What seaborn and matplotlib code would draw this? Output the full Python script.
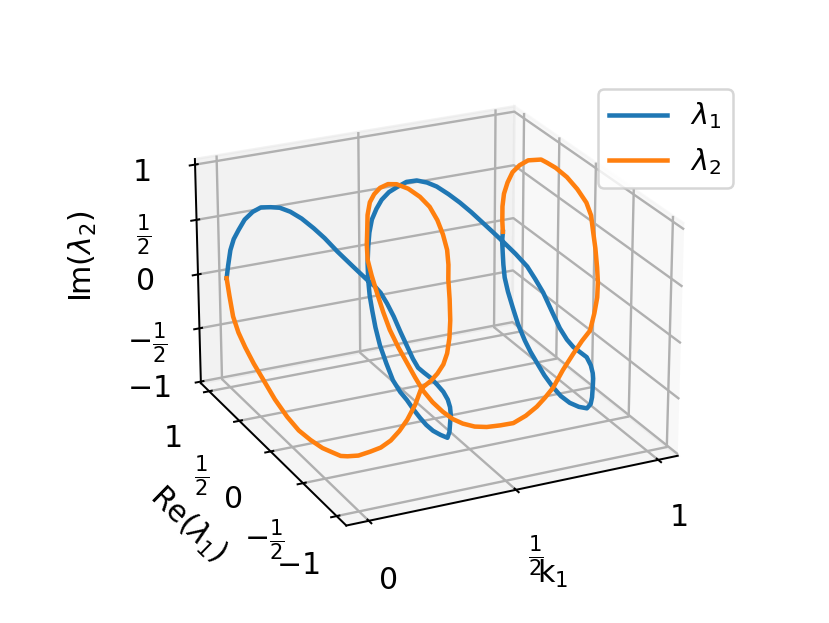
import matplotlib
matplotlib.use("Agg")
import matplotlib.pyplot as plt
import seaborn as sns

# lambda 1
k1 = [0.000, 0.000, 0.005, 0.005, 0.010, 0.015, 0.020, 0.025, 0.035, 0.040, 0.045, 0.050, 0.055,
      0.060, 0.070, 0.090, 0.115, 0.130, 0.140, 0.145, 0.155, 0.165, 0.175, 0.190, 0.205, 0.220,
      0.240, 0.265, 0.285, 0.305, 0.320, 0.330, 0.345, 0.365, 0.390, 0.415, 0.435, 0.445,
      0.450, 0.455, 0.460, 0.460, 0.460, 0.465, 0.475, 0.480, 0.485, 0.490, 0.490, 0.495, 0.500,
      0.500, 0.500, 0.505, 0.510, 0.515, 0.520, 0.530, 0.540, 0.545, 0.545, 0.550, 0.555, 0.560,
      0.570, 0.585, 0.595, 0.615, 0.635, 0.645, 0.660, 0.670, 0.690, 0.710, 0.730, 0.755, 0.780,
      0.795, 0.805, 0.815, 0.820, 0.830, 0.845, 0.865, 0.890, 0.915, 0.930, 0.940, 0.945, 0.955,
      0.960, 0.965, 0.970, 0.975, 0.975, 0.980, 0.980, 0.985, 0.990, 0.995, 1.000]
re1 = [1.02, 0.99, 0.97, 0.91, 0.85, 0.77, 0.66, 0.55, 0.44, 0.32, 0.18, 0.03, -0.13,
       -0.27, -0.41, -0.55, -0.65, -0.69, -0.73, -0.80, -0.85, -0.90, -0.96, -0.97, -0.98, -1.00,
       -1.01, -1.00, -1.00, -0.98, -0.95, -0.92, -0.85, -0.76, -0.63, -0.43, -0.24, -0.10,
       0.01, 0.13, 0.25, 0.35, 0.46, 0.58, 0.72, 0.81, 0.88, 0.94, 0.96, 0.99, 1.00,
       0.98, 0.94, 0.89, 0.83, 0.74, 0.64, 0.54, 0.43, 0.30, 0.16, 0.01, -0.13, -0.27,
       -0.39, -0.47, -0.57, -0.66, -0.74, -0.81, -0.86, -0.94, -0.97, -0.99, -1.00, -1.00, -0.99,
       -0.99, -0.98, -0.95, -0.93, -0.89, -0.83, -0.74, -0.60, -0.40, -0.22, -0.06, 0.07, 0.23,
       0.36, 0.47, 0.57, 0.69, 0.77, 0.86, 0.91, 0.95, 0.98, 1.01, 1.02]
im1 = [-0.01, 0.12, 0.27, 0.40, 0.51, 0.64, 0.76, 0.85, 0.90, 0.95, 0.98, 0.99, 0.98,
       0.96, 0.91, 0.84, 0.76, 0.72, 0.68, 0.62, 0.53, 0.42, 0.31, 0.21, 0.13, 0.09,
       0.04, -0.04, -0.11, -0.20, -0.29, -0.38, -0.50, -0.64, -0.78, -0.88, -0.96, -0.99,
       -0.99, -0.98, -0.96, -0.94, -0.89, -0.80, -0.71, -0.59, -0.47, -0.36, -0.23, -0.09, 0.06,
       0.20, 0.34, 0.46, 0.57, 0.68, 0.77, 0.86, 0.92, 0.96, 0.99, 0.99, 0.98, 0.96,
       0.92, 0.87, 0.83, 0.76, 0.68, 0.60, 0.50, 0.37, 0.23, 0.13, 0.06, 0.00, -0.06,
       -0.14, -0.22, -0.29, -0.35, -0.43, -0.54, -0.66, -0.79, -0.90, -0.97, -1.00, -0.99, -0.97,
       -0.92, -0.88, -0.83, -0.74, -0.62, -0.52, -0.41, -0.31, -0.22, -0.12, -0.04]

# lambda 2
k2 = [0.000, 0.000, 0.005, 0.010, 0.020, 0.030, 0.040, 0.050, 0.055, 0.060, 0.065, 0.075, 0.085,
      0.090, 0.095, 0.105, 0.120, 0.135, 0.150, 0.165, 0.180, 0.200, 0.220, 0.245, 0.265, 0.285,
      0.305, 0.320, 0.335, 0.350, 0.370, 0.390, 0.410, 0.425, 0.440, 0.450, 0.455, 0.460, 0.460,
      0.460, 0.460, 0.460, 0.470, 0.480, 0.490, 0.495, 0.500, 0.505, 0.515, 0.520, 0.525, 0.530,
      0.535, 0.535, 0.535, 0.535, 0.540, 0.545, 0.555, 0.565, 0.580, 0.595, 0.610, 0.625, 0.645,
      0.660, 0.675, 0.700, 0.730, 0.760, 0.790, 0.815, 0.835, 0.850, 0.860, 0.880, 0.900, 0.920,
      0.935, 0.945, 0.950, 0.960, 0.965, 0.970, 0.970, 0.970, 0.970, 0.970, 0.975, 0.980, 0.985,
      0.990, 1.000]
re2 = [1.02, 0.98, 0.95, 0.89, 0.83, 0.74, 0.63, 0.50, 0.33, 0.17, 0.01, -0.13, -0.25,
       -0.34, -0.42, -0.54, -0.65, -0.74, -0.82, -0.88, -0.93, -0.96, -0.96, -0.99, -1.00, -1.00,
       -0.97, -0.94, -0.89, -0.82, -0.72, -0.64, -0.54, -0.42, -0.28, -0.13, 0.03, 0.22, 0.39,
       0.52, 0.64, 0.73, 0.84, 0.92, 0.97, 1.00, 1.01, 0.97, 0.93, 0.86, 0.78, 0.67,
       0.56, 0.44, 0.32, 0.18, 0.05, -0.08, -0.18, -0.31, -0.42, -0.55, -0.67, -0.78, -0.85,
       -0.90, -0.95, -0.98, -1.00, -1.00, -0.99, -0.95, -0.91, -0.86, -0.81, -0.71, -0.60, -0.50,
       -0.38, -0.22, -0.06, 0.13, 0.27, 0.37, 0.43, 0.55, 0.67, 0.77, 0.86, 0.93, 0.97,
       0.99, 1.02]
im2 = [-0.01, -0.15, -0.33, -0.45, -0.56, -0.67, -0.77, -0.88, -0.95, -0.99, -0.99, -0.99, -0.97,
       -0.95, -0.91, -0.84, -0.75, -0.67, -0.57, -0.46, -0.34, -0.20, -0.07, 0.00, 0.06, 0.13,
       0.20, 0.31, 0.43, 0.57, 0.68, 0.76, 0.83, 0.90, 0.95, 0.99, 1.00, 0.98, 0.94,
       0.88, 0.79, 0.69, 0.56, 0.40, 0.23, 0.08, -0.07, -0.20, -0.35, -0.49, -0.62, -0.73,
       -0.82, -0.89, -0.95, -0.98, -1.00, -1.00, -0.99, -0.95, -0.90, -0.82, -0.74, -0.62, -0.51,
       -0.41, -0.30, -0.14, 0.00, 0.10, 0.17, 0.29, 0.40, 0.50, 0.60, 0.71, 0.81, 0.88,
       0.93, 0.97, 1.00, 0.99, 0.97, 0.95, 0.92, 0.86, 0.76, 0.65, 0.51, 0.37, 0.23,
       0.08, -0.04]

k_ticks = [0, 0.5, 1]
val_ticks = [-1, -0.5, 0, 0.5, 1]
val_labels = ['$-1$', r'$-\frac{1}{2}$', '$0$', r'$\frac{1}{2}$', '$1$']
k_labels = ['$0$', r'$\frac{1}{2}$', '$1$']
colors = sns.color_palette('tab10')

plt.rcParams['font.size'] = 12
plt.rcParams['grid.linewidth'] = 0.95

fig = plt.figure(figsize=(830/180, 623/180), dpi=180)
ax = fig.add_subplot(projection='3d')
ax.set_position([0.125 + 2.4/830, 0.11 + 2.0/623, 0.775, 0.77])
ax.view_init(elev=23.09, azim=-115.5)
ax.set_proj_type('persp', focal_length=1.446)
ax.set_box_aspect((4*0.985, 4, 2.71), zoom=1.154)
ax.plot(k1, re1, im1, color=colors[0], lw=1.8, label=r'$\lambda_1$')
ax.plot(k2, re2, im2, color=colors[1], lw=1.8, label=r'$\lambda_2$')
ax.set_xlim(-0.075, 1.07)
ax.set_ylim(-1.14, 1.14)
ax.set_zlim(-1.015, 1.05)
ax.set_xticks(k_ticks)
ax.set_xticklabels(k_labels)
ax.set_yticks(val_ticks)
ax.set_yticklabels(val_labels)
ax.set_zticks(val_ticks)
ax.set_zticklabels(val_labels)
ax.xaxis.set_rotate_label(False)
ax.set_xlabel('k$_1$', rotation=0, labelpad=1)
ax.set_ylabel(r'Re($\lambda_1$)')
ax.zaxis.set_rotate_label(False)
ax.set_zlabel(r'Im($\lambda_2$)', rotation=90)
ax.legend(loc='upper right', bbox_to_anchor=(0.9, 0.88), bbox_transform=fig.transFigure, fontsize=11.5)
fig.savefig('out.png')
